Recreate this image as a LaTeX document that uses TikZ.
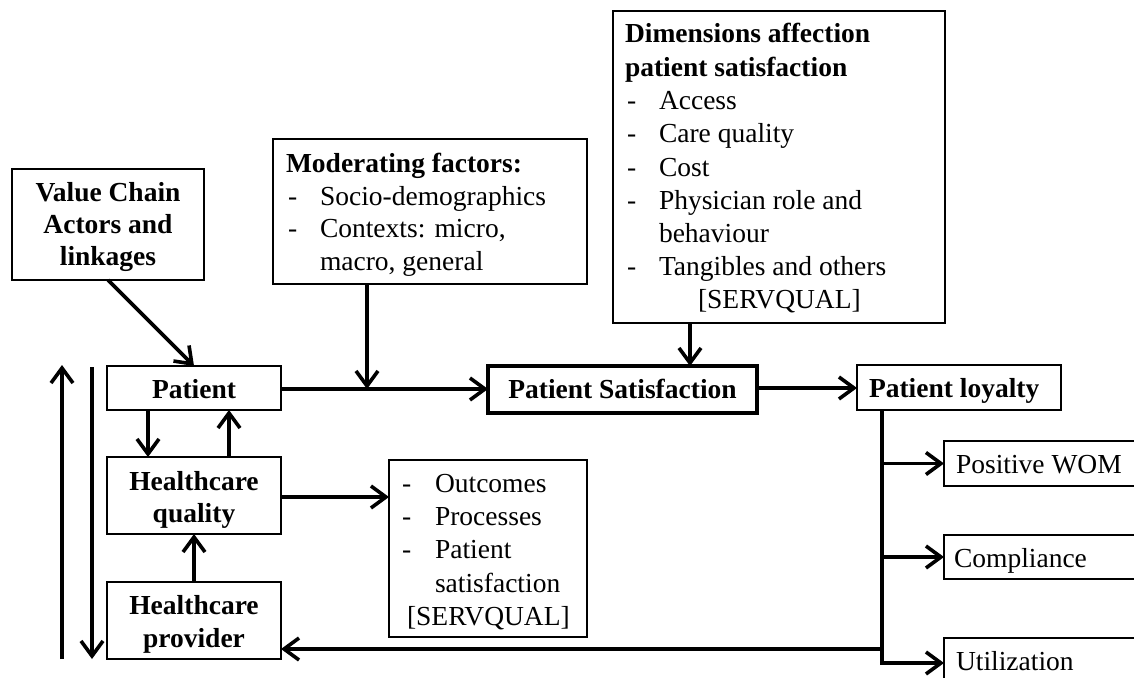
\documentclass[tikz,border=0pt]{standalone}
\usepackage{fontspec}
\setmainfont{Liberation Serif}
\usetikzlibrary{arrows.meta,calc}
\begin{document}
\begin{tikzpicture}[x=1pt,y=-1pt,
  box/.style={draw, line width=1.8pt, inner sep=0pt, outer sep=0pt},
  psbox/.style={draw, line width=4.8pt, inner sep=0pt, outer sep=0pt},
  txt/.style={inner sep=0pt, outer sep=0pt, font=\fontsize{27.5}{33}\selectfont},
  btxt/.style={txt, font=\fontsize{27.5}{33}\selectfont\bfseries},
  arr/.style={line width=3.6pt, -{Straight Barb[length=15pt,width=22pt]}},
  ln/.style={line width=3.6pt}]
\useasboundingbox (0,0) rectangle (1134,677);
\clip (0,0) rectangle (1134,677);

% boxes
\node[box, minimum width=192pt, minimum height=111pt] (vc) at (108,224.5) {};
\node[box, minimum width=174pt, minimum height=44pt] (pat) at (194,388) {};
\node[box, minimum width=174pt, minimum height=77pt] (hq) at (194,495.5) {};
\node[box, minimum width=174pt, minimum height=77pt] (hp) at (194,620.5) {};
\node[box, minimum width=314pt, minimum height=145pt] (mod) at (430,211.5) {};
\node[box, minimum width=332pt, minimum height=312pt] (dim) at (779,167) {};
\node[psbox, minimum width=269pt, minimum height=47pt] (ps) at (622.5,389.5) {};
\node[box, minimum width=204pt, minimum height=45pt] (loy) at (959,387.5) {};
\node[box, minimum width=206pt, minimum height=45pt] (wom) at (1047,463.5) {};
\node[box, minimum width=206pt, minimum height=44pt] (comp) at (1047,557) {};
\node[box, minimum width=206pt, minimum height=62pt] (util) at (1047,669) {};
\node[box, minimum width=198pt, minimum height=177pt] (out) at (488,548.5) {};

% texts: value chain
\node[btxt, anchor=base] (vc1) at (108,201) {Value Chain};
\node[btxt, anchor=base] (vc2) at (108,233) {Actors and};
\node[btxt, anchor=base] (vc3) at (108,265) {linkages};
\node[btxt, anchor=base] (patt) at (194,398) {Patient};
\node[btxt, anchor=base] (hq1) at (194,490) {Healthcare};
\node[btxt, anchor=base] (hq2) at (194,522) {quality};
\node[btxt, anchor=base] (hp1) at (194,614) {Healthcare};
\node[btxt, anchor=base] (hp2) at (194,647) {provider};
\node[btxt, anchor=base] (pst) at (622.5,398) {Patient Satisfaction};
\node[btxt, anchor=base west] (loyt) at (869,397) {Patient loyalty};
\node[txt, anchor=base west] (womt) at (956,473) {Positive WOM};
\node[txt, anchor=base west] (compt) at (954,567) {Compliance};
\node[txt, anchor=base west] (utilt) at (956,670) {Utilization};

% moderating
\node[btxt, anchor=base west] (m0) at (286,172) {Moderating factors:};
\node[txt, anchor=base west] (md1) at (288,205) {-};
\node[txt, anchor=base west] (m1) at (320,205) {Socio-demographics};
\node[txt, anchor=base west] (md2) at (288,237) {-};
\node[txt, anchor=base west] (m2) at (320,237) {Contexts: micro,};
\node[txt, anchor=base west] (m3) at (320,270) {macro, general};

% dimensions
\node[btxt, anchor=base west] (d0) at (625,43) {Dimensions affection};
\node[btxt, anchor=base west] (d00) at (625,77) {patient satisfaction};
\node[txt, anchor=base west] (dd1) at (627,109) {-};
\node[txt, anchor=base west] (d1) at (659,109) {Access};
\node[txt, anchor=base west] (dd2) at (627,142) {-};
\node[txt, anchor=base west] (d2) at (659,142) {Care quality};
\node[txt, anchor=base west] (dd3) at (627,176) {-};
\node[txt, anchor=base west] (d3) at (659,176) {Cost};
\node[txt, anchor=base west] (dd4) at (627,209) {-};
\node[txt, anchor=base west] (d4) at (659,209) {Physician role and};
\node[txt, anchor=base west] (d5) at (659,242) {behaviour};
\node[txt, anchor=base west] (dd6) at (627,275) {-};
\node[txt, anchor=base west] (d6) at (659,275) {Tangibles and others};
\node[txt, anchor=base west] (d7) at (698,308) {[SERVQUAL]};

% outcomes
\node[txt, anchor=base west] (od1) at (402,492) {-};
\node[txt, anchor=base west] (o1) at (435,492) {Outcomes};
\node[txt, anchor=base west] (od2) at (402,525) {-};
\node[txt, anchor=base west] (o2) at (435,525) {Processes};
\node[txt, anchor=base west] (od3) at (402,558) {-};
\node[txt, anchor=base west] (o3) at (435,558) {Patient};
\node[txt, anchor=base west] (o4) at (435,592) {satisfaction};
\node[txt, anchor=base west] (o5) at (407,625) {[SERVQUAL]};

% coordinates
\coordinate (upS) at (62,659);
\coordinate (upE) at (62,365);
\coordinate (dnS) at (92,367);
\coordinate (dnE) at (92,659);
\coordinate (j1) at (367,389);
\coordinate (v0) at (882,410);
\coordinate (v1) at (882,463.5);
\coordinate (v2) at (882,557);
\coordinate (v3) at (882,663);
\coordinate (v4) at (882,649);

% connectors
\draw[arr] (vc.south) -- (pat.north);
\draw[arr] ([xshift=-46pt]pat.south) -- ([xshift=-46pt]hq.north);
\draw[arr] ([xshift=35pt]hq.north) -- ([xshift=35pt]pat.south);
\draw[arr] (hp.north) -- (hq.south);
\draw[arr] (upS) -- (upE);
\draw[arr] (dnS) -- (dnE);
\draw[arr] (pat.east |- j1) -- (ps.west |- j1);
\draw[arr] (mod.south -| j1) -- (j1);
\draw[arr] (dim.south -| 690,0) -- (ps.north -| 690,0);
\draw[arr] (ps.east |- 0,388) -- (loy.west |- 0,388);
\draw[ln] (v0) -- (v3);
\draw[arr] (v1) -- (wom.west |- v1);
\draw[arr] (v2) -- (comp.west |- v2);
\draw[arr] ([xshift=-1.8pt]v3) -- (util.west |- v3);
\draw[arr] (v4) -- (hp.east |- v4);
\draw[arr] (hq.east |- 0,497) -- (out.west |- 0,497);
\end{tikzpicture}
\end{document}
